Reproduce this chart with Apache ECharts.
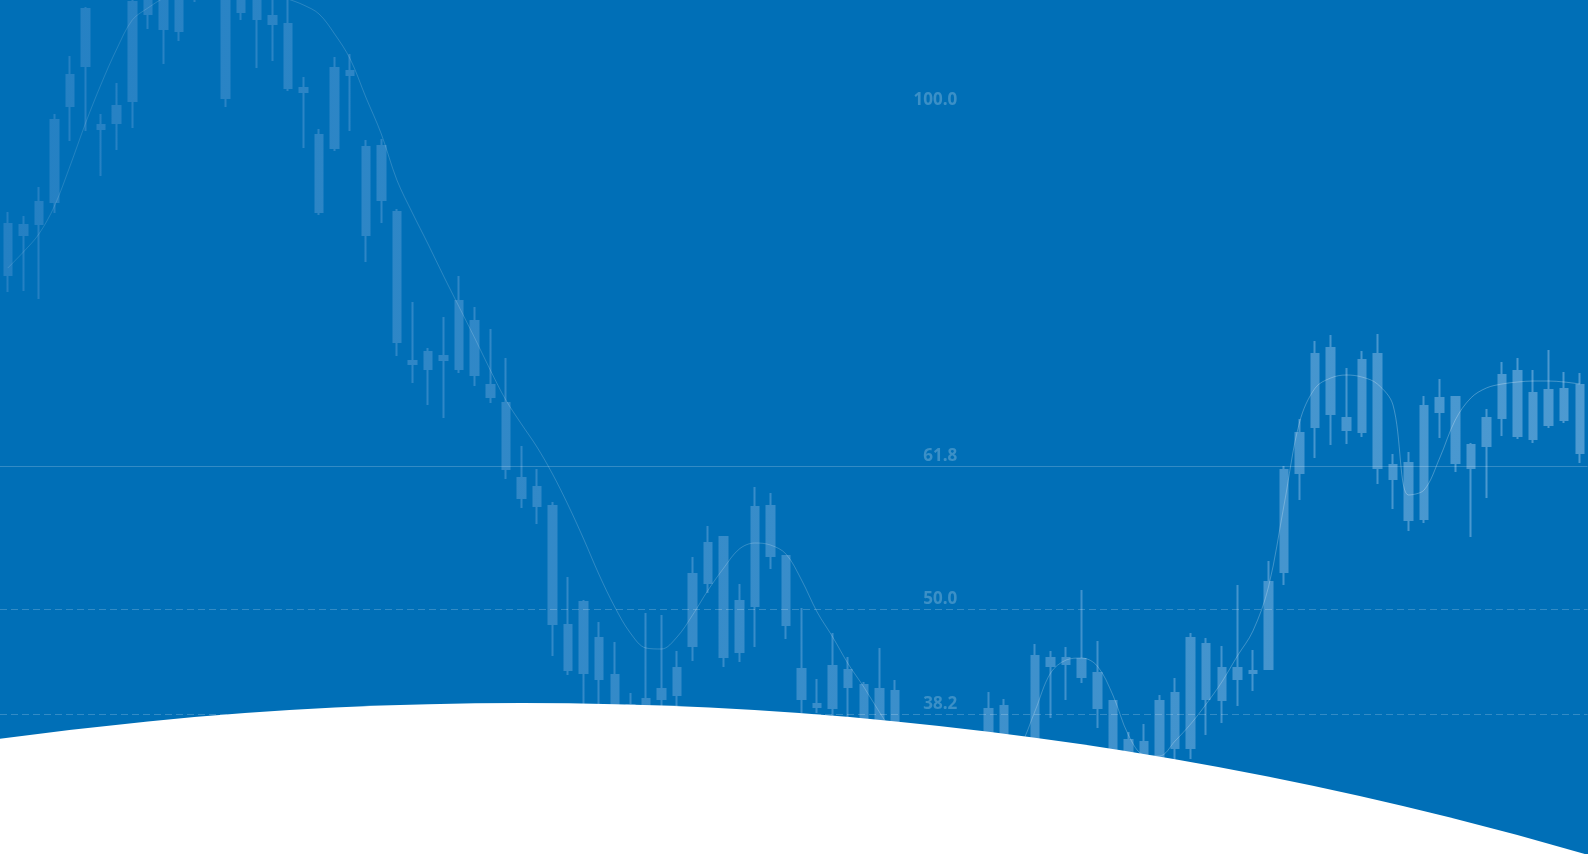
<!DOCTYPE html>
<html>
<head>
<meta charset="utf-8">
<script src="https://cdn.jsdelivr.net/npm/echarts@6/dist/echarts.min.js"></script>
<style>
html,body{margin:0;padding:0;background:#006FB7;overflow:hidden;}
#chart{width:1588px;height:854px;}
</style>
</head>
<body>
<div id="chart"></div>
<script>
// ---- Data (price units) ----
const opens = [63.0,62.9,65.2,73.4,77.9,84.5,72.9,74.8,85.2,86.9,87.4,86.4,89.4,91.4,86.4,85.9,86.2,83.8,83.0,76.6,
  71.9,78.6,78.3,70.7,70.8,64.2,49.3,50.2,49.8,55.3,53.3,46.9,45.1,37.6,36.7,34.8,22.9,25.2,21.6,17.9,
  14.9,15.5,16.5,18.6,28.0,31.1,31.7,25.3,34.7,34.8,29.8,18.5,15.0,18.8,18.4,16.9,16.5,16.3,10.9,8.0,
  6.0,5.5,7.5,14.5,14.8,9.5,19.8,19.6,19.6,19.5,18.1,15.3,11.4,11.2,15.3,16.1,21.6,21.0,18.6,18.6,
  18.3,27.2,38.4,42.1,50.0,50.6,43.6,49.4,50.0,38.9,39.1,44.8,45.6,45.7,40.9,43.6,47.9,48.3,46.1,46.4,
  46.5,46.9];
const closes = [57.9,61.9,63.0,65.2,74.8,78.8,72.5,73.1,75.3,84.0,82.5,82.3,86.4,87.4,75.6,84.2,83.5,83.0,76.6,76.2,
  64.2,70.6,77.9,61.9,65.4,51.2,49.0,48.5,49.4,48.5,47.9,45.7,38.5,35.6,34.8,23.0,18.4,18.1,17.5,11.9,
  11.4,14.9,15.5,15.9,20.8,27.1,19.7,20.2,24.8,29.8,22.9,15.5,14.7,14.6,16.7,13.4,13.1,13.1,7.0,4.5,
  3.0,2.5,4.0,9.4,9.9,6.0,11.6,18.8,19.0,17.7,14.6,10.4,10.1,9.7,9.7,10.6,10.6,15.5,15.4,17.5,
  18.1,18.5,28.2,38.1,42.7,44.0,42.4,42.2,38.6,37.5,33.4,33.5,44.2,39.1,38.6,40.8,43.6,41.8,41.5,42.9,
  43.4,40.1];
const lows = [56.2,56.3,55.5,64.1,71.3,72.3,67.8,70.4,72.6,82.5,79.0,81.3,85.2,86.5,74.7,83.4,78.6,79.3,76.3,70.6,
  63.9,70.3,72.3,59.2,63.1,49.8,47.1,44.9,43.6,48.1,46.8,45.1,37.5,34.6,33.0,19.8,17.9,13.4,14.2,10.5,
  10.0,12.5,13.9,14.7,19.3,26.1,18.7,19.2,20.7,28.5,21.5,14.1,14.1,13.7,13.7,12.0,11.5,11.8,5.5,3.0,
  1.5,1.0,2.5,7.5,8.0,4.5,10.0,13.6,15.4,17.1,12.6,9.0,8.5,8.5,8.0,9.2,9.5,11.9,13.1,14.8,
  16.3,18.5,26.9,35.4,39.6,40.9,41.0,41.7,37.0,34.5,32.3,33.1,41.6,38.2,31.7,35.6,41.8,41.5,41.1,42.6,
  43.1,39.1];
const highs = [64.2,63.8,66.7,74.0,79.8,84.7,74.0,77.1,86.0,87.9,88.5,87.5,90.5,92.5,87.5,86.8,87.0,85.6,85.6,77.7,
  72.5,79.7,80.0,71.4,71.5,64.5,55.2,50.6,53.7,57.8,54.7,52.5,49.6,40.8,38.5,35.2,27.7,25.4,23.2,21.2,
  16.1,24.1,23.9,20.3,29.7,32.8,31.7,27.0,36.7,36.1,29.8,24.6,17.5,22.1,19.7,17.2,20.6,17.4,11.5,9.5,
  8.0,7.5,9.0,16.2,15.5,10.5,21.0,20.3,20.7,26.4,21.3,15.3,12.2,13.0,15.9,17.6,22.1,21.6,20.8,26.9,
  20.4,29.3,38.8,43.5,51.3,51.9,48.6,50.3,52.0,40.0,40.2,45.8,47.5,45.7,41.1,44.5,49.2,49.6,48.4,50.4,
  48.2,48.1];
const trendLine = [58.6,60.2,62.0,64.8,68.8,73.1,77.0,80.5,83.4,84.6,85.6,86.4,87.2,87.6,87.6,87.2,86.6,86.0,85.5,84.9,
  84.0,82.0,79.5,75.7,72.0,67.4,64.1,61.0,57.8,54.7,51.6,48.4,45.4,43.0,40.7,38.0,34.9,31.5,27.9,24.7,
  22.1,20.6,20.5,21.7,23.9,26.4,28.6,30.5,31.1,30.9,30.0,27.4,24.2,21.7,19.0,16.7,14.2,11.9,9.9,8.4,
  7.4,6.9,6.9,7.6,8.9,10.6,14.3,18.1,19.4,19.6,18.8,15.9,11.9,9.9,9.8,11.3,13.0,15.0,17.2,19.8,
  22.3,26.7,34.9,43.2,46.6,47.6,47.9,47.7,47.0,44.9,35.9,36.4,39.6,43.4,45.6,46.6,47.0,47.2,47.3,47.3,
  47.2,47.0];
const categories = opens.map((_, i) => 'P' + (i + 1));
const fibLabels = ['100.0', '61.8', '50.0', '38.2'];
const fibPrices = [74.4, 38.8, 24.5, 14.0];
const fibLineTypes = ['none', 'solid', 'dashed', 'dashed'];
const fibLabelCategory = 61;

// ---- Chart ----
const W = 1588, H = 854;
const chart = echarts.init(document.getElementById('chart'), null, {width: W, height: H});
const candleGrad = new echarts.graphic.LinearGradient(0, 0, W, 0, [
  {offset: 0, color: '#2480C3'}, {offset: 1, color: '#4D9AD1'}], true);
const lineGrad = new echarts.graphic.LinearGradient(0, 0, W, 0, [
  {offset: 0, color: 'rgba(255,255,255,0.13)'}, {offset: 1, color: 'rgba(255,255,255,0.28)'}], true);
const candleData = opens.map((o, i) => [o, closes[i], lows[i], highs[i]]);
const step = 15.575;

const fibLines = [];
const fibPoints = [];
fibLabels.forEach((lab, i) => {
  if (fibLineTypes[i] !== 'none') {
    fibLines.push({
      yAxis: fibPrices[i],
      lineStyle: {type: fibLineTypes[i] === 'dashed' ? [7, 4] : 'solid'}
    });
  }
  fibPoints.push({coord: [categories[fibLabelCategory], fibPrices[i]], value: lab});
});

chart.setOption({
  backgroundColor: '#006FB7',
  animation: false,
  grid: {left: -1.1, top: 0, width: step * categories.length, height: H},
  xAxis: {type: 'category', data: categories, boundaryGap: true, show: false},
  yAxis: {type: 'value', min: 0, max: 85.4, show: false},
  series: [
    {
      type: 'candlestick',
      data: candleData,
      barWidth: 8,
      clip: true,
      itemStyle: {
        color: candleGrad, color0: candleGrad,
        borderColor: candleGrad, borderColor0: candleGrad, borderColorDoji: candleGrad,
        borderWidth: 2
      },
      markLine: {
        silent: true,
        symbol: ['none', 'none'],
        label: {show: false},
        lineStyle: {color: 'rgba(255,255,255,0.2)', width: 1.2},
        data: fibLines
      },
      markPoint: {
        silent: true,
        symbol: 'circle',
        symbolSize: 0,
        label: {
          show: true,
          formatter: p => p.value,
          position: 'inside',
          align: 'right',
          verticalAlign: 'bottom',
          offset: [0, -1.5],
          color: 'rgba(255,255,255,0.23)',
          fontFamily: 'Open Sans',
          fontWeight: 'bold',
          fontSize: 17
        },
        data: fibPoints
      }
    },
    {
      type: 'line',
      data: trendLine,
      smooth: 0.35,
      symbol: 'none',
      z: 3,
      lineStyle: {color: lineGrad, width: 1}
    }
  ],
  graphic: [{
    type: 'circle',
    z: 100,
    silent: true,
    shape: {cx: 522, cy: 4519, r: 3816},
    style: {fill: '#ffffff'}
  }]
});
</script>
</body>
</html>
